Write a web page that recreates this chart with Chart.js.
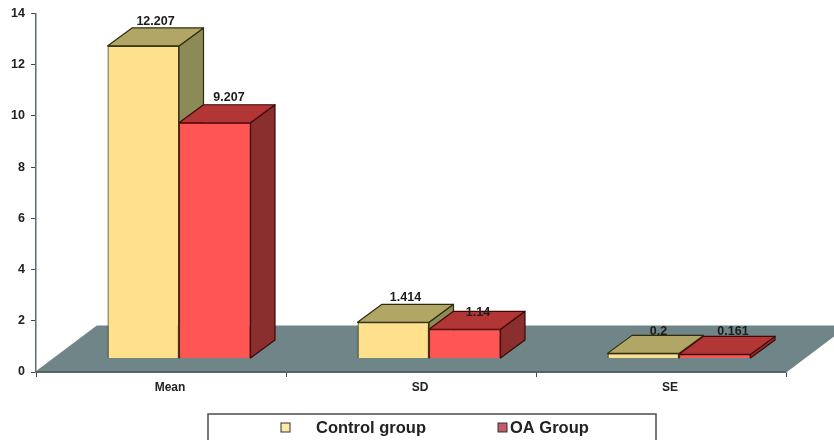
<!DOCTYPE html>
<html>
<head>
<meta charset="utf-8">
<style>
  html, body { margin: 0; padding: 0; background: #fff; overflow: hidden; }
  canvas { display: block; }
</style>
<script src="https://cdn.jsdelivr.net/npm/chart.js@4"></script>
</head>
<body>
<canvas id="chart" width="834" height="440"></canvas>
<script>
const categories = ["Mean", "SD", "SE"];
const controlValues = [12.207, 1.414, 0.2];
const oaValues = [9.207, 1.14, 0.161];
const controlText = ["12.207", "1.414", "0.2"];
const oaText = ["9.207", "1.14", "0.161"];
const yTicks = [0, 2, 4, 6, 8, 10, 12, 14];

// fake 3d: bars sit part way back on the floor
const FLOOR_DX = 61, FLOOR_DY = 46;
const BAR_DX = 18, BAR_DY = 13.5;
const DEPTH_DX = 24.5, DEPTH_DY = 18;
const FONT = '"Liberation Sans", Arial, sans-serif';

function face(ctx, pts, fill, stroke) {
    ctx.beginPath();
    pts.forEach((p, i) => (i ? ctx.lineTo(p[0], p[1]) : ctx.moveTo(p[0], p[1])));
    ctx.closePath();
    ctx.fillStyle = fill;
    ctx.fill();
    ctx.lineWidth = 1.2;
    ctx.strokeStyle = stroke;
    ctx.stroke();
}

const floorPlugin = {
    id: "floor",
    beforeDatasetsDraw(chart) {
        const { ctx, chartArea: a } = chart;
        const y0 = chart.scales.y.getPixelForValue(0);
        ctx.save();
        face(ctx, [
            [a.left, y0], [a.right, y0],
            [a.right + FLOOR_DX, y0 - FLOOR_DY], [a.left + FLOOR_DX, y0 - FLOOR_DY],
        ], "#6f8587", "#6f8587");
        ctx.beginPath();
        ctx.moveTo(a.left, y0);
        ctx.lineTo(a.right, y0);
        ctx.lineWidth = 1.5;
        ctx.strokeStyle = "#46565a";
        ctx.stroke();
        ctx.restore();
    },
};

const depthPlugin = {
    id: "depth",
    // chart.js paints dataset 0 last, so the side and top faces go down first, left group to right
    beforeDatasetsDraw(chart) {
        const { ctx } = chart;
        ctx.save();
        ctx.lineJoin = "round";
        chart.data.datasets.forEach((ds, i) => {
            chart.getDatasetMeta(i).data.forEach((bar) => {
                const l = bar.x - bar.width / 2 + BAR_DX;
                const r = bar.x + bar.width / 2 + BAR_DX;
                const t = bar.y - BAR_DY;
                const b = bar.base - BAR_DY;
                face(ctx, [[r, t], [r + DEPTH_DX, t - DEPTH_DY], [r + DEPTH_DX, b - DEPTH_DY], [r, b]], ds.sideColor, ds.edgeColor);
                face(ctx, [[l, t], [l + DEPTH_DX, t - DEPTH_DY], [r + DEPTH_DX, t - DEPTH_DY], [r, t]], ds.topColor, ds.edgeColor);
            });
        });
        ctx.restore();
    },
    beforeDatasetDraw(chart) {
        chart.ctx.save();
        chart.ctx.translate(BAR_DX, -BAR_DY);
    },
    afterDatasetDraw(chart) {
        chart.ctx.restore();
    },
    afterDatasetsDraw(chart) {
        const { ctx } = chart;
        ctx.save();
        ctx.font = "bold 12.5px " + FONT;
        ctx.fillStyle = "#1c1c1c";
        ctx.textAlign = "center";
        ctx.textBaseline = "bottom";
        chart.data.datasets.forEach((ds, i) => {
            chart.getDatasetMeta(i).data.forEach((bar, j) => {
                const x = bar.x + BAR_DX + DEPTH_DX / 2;
                const y = bar.y - BAR_DY - DEPTH_DY;
                ctx.fillText(ds.valueText[j], x + ds.labelShift[j][0], y + ds.labelShift[j][1]);
            });
        });
        ctx.restore();
    },
};

const legendPlugin = {
    id: "boxLegend",
    afterDraw(chart) {
        const { ctx } = chart;
        ctx.save();
        ctx.strokeStyle = "#4d4d4d";
        ctx.lineWidth = 1.5;
        ctx.strokeRect(208, 414, 448, 40);
        ctx.font = "bold 16.5px " + FONT;
        ctx.textBaseline = "middle";
        ctx.textAlign = "left";
        chart.data.datasets.forEach((ds) => {
            ctx.fillStyle = ds.swatchColor;
            ctx.fillRect(ds.swatchX, 423, 9, 9);
            ctx.strokeStyle = "#333";
            ctx.lineWidth = 1;
            ctx.strokeRect(ds.swatchX, 423, 9, 9);
            ctx.fillStyle = "#222";
            ctx.fillText(ds.label, ds.textX, 428);
        });
        ctx.restore();
    },
};

new Chart(document.getElementById("chart"), {
    type: "bar",
    data: {
        labels: categories,
        datasets: [
            {
                label: "Control group",
                data: controlValues,
                valueText: controlText,
                labelShift: [[0, 0], [0, 0], [3, 2]],
                backgroundColor: "#ffe08c",
                borderColor: "#3d3a12",
                edgeColor: "#2e2c0c",
                topColor: "#b2a666",
                sideColor: "#8c8a56",
                swatchColor: "#fbe9a8",
                swatchX: 281,
                textX: 316,
            },
            {
                label: "OA Group",
                data: oaValues,
                valueText: oaText,
                labelShift: [[2, -1], [1, 7], [6, 1]],
                backgroundColor: "#ff5555",
                borderColor: "#7a1010",
                edgeColor: "#3c0808",
                topColor: "#b23636",
                sideColor: "#8a2e2e",
                swatchColor: "#c75a68",
                swatchX: 498,
                textX: 510,
            },
        ],
    },
    plugins: [floorPlugin, depthPlugin, legendPlugin],
    options: {
        responsive: false,
        animation: false,
        devicePixelRatio: 1,
        layout: { padding: { top: 13, right: 48, left: 0, bottom: 0 } },
        datasets: {
            bar: {
                categoryPercentage: 0.572,
                barPercentage: 1,
                borderWidth: 1.2,
                clip: false,
            },
        },
        scales: {
            x: {
                border: { color: "#5c6b74", width: 1.5 },
                grid: { drawOnChartArea: false, drawTicks: true, tickLength: 5, color: "#3f4a50" },
                ticks: {
                    color: "#222",
                    padding: 3,
                    labelOffset: 9,
                    maxRotation: 0,
                    font: { family: FONT, size: 12, weight: "bold" },
                },
                afterFit(axis) { axis.height = 68; },
            },
            y: {
                min: 0,
                max: 14,
                border: { color: "#5c6b74", width: 1.5 },
                grid: { drawOnChartArea: false, drawTicks: true, tickLength: 5, color: "#3f4a50" },
                afterBuildTicks(axis) { axis.ticks = yTicks.map((v) => ({ value: v })); },
                ticks: {
                    color: "#222",
                    padding: 6,
                    font: { family: FONT, size: 12.5, weight: "bold" },
                },
                afterFit(axis) { axis.width = 36; },
            },
        },
        plugins: {
            legend: { display: false },
            title: { display: false },
            tooltip: { enabled: false },
        },
    },
});
</script>
</body>
</html>
